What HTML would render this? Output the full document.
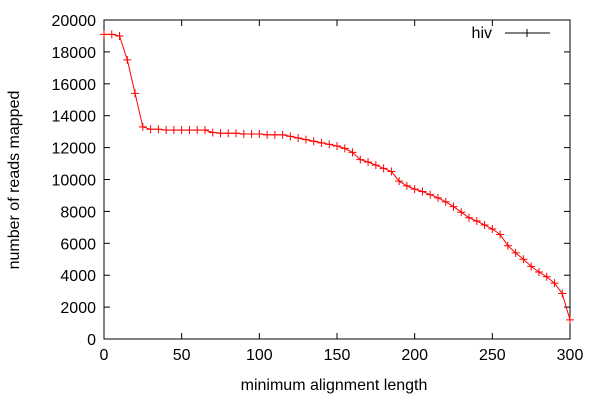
<!DOCTYPE html>
<html><head><meta charset="utf-8"><style>
body{margin:0;background:#fff}
svg text{font-family:"Liberation Sans",sans-serif;font-size:16px;fill:#000}
</style></head><body>
<svg id="chart" width="600" height="400">
<rect x="104" y="20" width="466" height="319" fill="none" stroke="#000" stroke-width="1"/>
<g id="axes"></g>
<text x="334" y="390" text-anchor="middle">minimum alignment length</text>
<text transform="translate(19,180) rotate(-90)" text-anchor="middle">number of reads mapped</text>
<g>
<text x="492" y="38" text-anchor="end">hiv</text>
<line x1="505" y1="33" x2="550" y2="33" stroke="#000"/>
<path d="M527,29v8" stroke="#000"/>
</g>
<g id="series"></g>
</svg>
<script>
const xValues=[0,5,10,15,20,25,30,35,40,45,50,55,60,65,70,75,80,85,90,95,100,105,110,115,120,125,130,135,140,145,150,155,160,165,170,175,180,185,190,195,200,205,210,215,220,225,230,235,240,245,250,255,260,265,270,275,280,285,290,295,300];
const readsMapped=[19100,19100,19000,17500,15400,13300,13150,13150,13100,13100,13100,13100,13100,13100,12950,12900,12900,12900,12850,12850,12850,12800,12800,12800,12700,12600,12500,12400,12300,12200,12100,11950,11700,11250,11100,10900,10700,10500,9900,9600,9400,9250,9050,8850,8600,8300,7950,7600,7400,7150,6900,6550,5850,5400,5000,4550,4200,3900,3500,2850,1200];
const xTicks=[0,50,100,150,200,250,300];
const yTicks=[0,2000,4000,6000,8000,10000,12000,14000,16000,18000,20000];
const NS="http://www.w3.org/2000/svg";
const L=104,R=570,T=20,B=339;
const sx=v=>L+(v-0)/300*(R-L);
const sy=v=>B-(v/20000)*(B-T);
const axes=document.getElementById('axes');
function mk(tag,attrs,parent){const e=document.createElementNS(NS,tag);for(const k in attrs)e.setAttribute(k,attrs[k]);parent.appendChild(e);return e;}
xTicks.forEach(v=>{
  const x=sx(v);
  const t1=mk('line',{x1:x,x2:x,y1:B,y2:B-6,stroke:'#000'},axes);
  
  
  const t2=mk('line',{x1:x,x2:x,y1:T,y2:T+6,stroke:'#000'},axes);
  
  
  const tx=mk('text',{x:x,y:B+21,'text-anchor':'middle'},axes);tx.textContent=v;
  
  
});
yTicks.forEach(v=>{
  const y=sy(v);
  const t1=mk('line',{x1:L,x2:L+6,y1:y,y2:y,stroke:'#000'},axes);
  
  
  const t2=mk('line',{x1:R,x2:R-6,y1:y,y2:y,stroke:'#000'},axes);
  
  
  const tx=mk('text',{x:L-8,y:y+6,'text-anchor':'end'},axes);tx.textContent=v;
  
  
});
const series=document.getElementById('series');
const pts=xValues.map((x,i)=>sx(x).toFixed(1)+','+sy(readsMapped[i]).toFixed(1)).join(' ');
const pl=mk('polyline',{points:pts,fill:'none',stroke:'#f00','stroke-width':1},series);


xValues.forEach((xv,i)=>{
  const x=sx(xv),y=sy(readsMapped[i]);
  const m=mk('path',{d:`M${x-4},${y}h8M${x},${y-4}v8`,stroke:'#f00','stroke-width':1},series);
  
  
});
</script>
</body></html>
